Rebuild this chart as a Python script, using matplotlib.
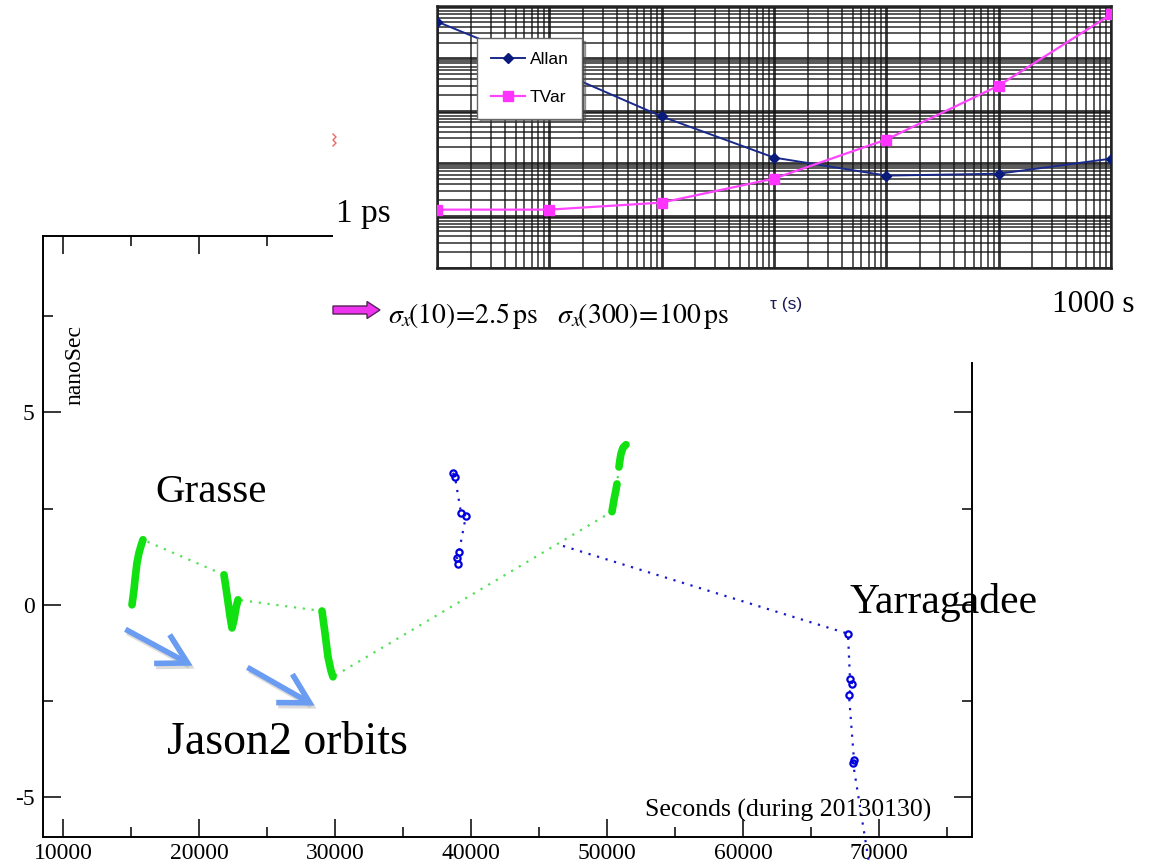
import matplotlib
matplotlib.use('Agg')
import matplotlib.pyplot as plt
import numpy as np
from matplotlib.patches import Rectangle, FancyArrow, FancyArrowPatch
from matplotlib.ticker import MultipleLocator, LogLocator, NullFormatter

plt.rcParams['font.family'] = ['Liberation Serif', 'DejaVu Serif']
plt.rcParams['axes.unicode_minus'] = False
plt.rcParams['mathtext.fontset'] = 'stix'

# ---------------- data: main time-transfer plot ----------------
# Grasse (green), passes separated by pass id
grasse_x = [15074, 15221, 15294, 15441, 15588, 15735, 15882,
            21838, 21985, 22132, 22279, 22426, 22574, 22721, 22868,
            29044, 29265, 29485, 29706, 29853,
            50368, 50515, 50662, 50735,
            50882, 50956, 51029, 51176, 51397]
grasse_y = [0.00, 0.39, 0.65, 1.09, 1.35, 1.53, 1.69,
            0.78, 0.44, 0.08, -0.29, -0.60, -0.39, -0.08, 0.13,
            -0.16, -0.73, -1.35, -1.71, -1.87,
            2.42, 2.73, 2.99, 3.14,
            3.58, 3.77, 3.92, 4.08, 4.16]
grasse_pass = [1]*7 + [2]*8 + [3]*5 + [4]*4 + [5]*5

# Yarragadee (blue), two separate segments
yar_a_x = [38676, 38824, 39265, 39632, 39118, 38971, 39044]
yar_a_y = [3.43, 3.32, 2.39, 2.31, 1.38, 1.22, 1.06]
yar_b_x = [46765, 67721, 67868, 68015, 67794, 68162, 68088, 69265]
yar_b_y = [1.53, -0.75, -1.92, -2.05, -2.34, -4.03, -4.10, -6.70]
yar_b_marked = [False, True, True, True, True, True, True, False]

x_ticks = [10000, 20000, 30000, 40000, 50000, 60000, 70000]
y_ticks = [-5, 0, 5]

# ---------------- data: Allan / TVar inset ----------------
tau = [1, 10, 100, 1000, 1e4, 1e5, 1e6]
allan = [5040, 670, 78, 12.8, 5.8, 6.3, 12.2]
tvar = [1.30, 1.30, 1.77, 5.08, 28.3, 302, 6900]

W, H = 1151, 865
fig = plt.figure(figsize=(W / 100, H / 100), dpi=100)

# ---------------- main axes ----------------
ax = fig.add_axes([43 / W, 1 - 837 / H, (972 - 43) / W, (837 - 236) / H], zorder=1)
ax.set_xlim(8530, 76840)
ax.set_ylim(-6.03, 9.58)
ax.set_xticks(x_ticks)
ax.set_yticks(y_ticks)
ax.xaxis.set_minor_locator(MultipleLocator(5000))
ax.yaxis.set_minor_locator(MultipleLocator(2.5))
ax.tick_params(which='both', direction='in', top=True, right=True,
               labelsize=17, width=1.1, colors='black')
ax.tick_params(which='major', length=13)
ax.tick_params(which='minor', length=7)
ax.tick_params(axis='x', pad=4)
ax.tick_params(axis='y', pad=6)
for s in ax.spines.values():
    s.set_linewidth(1.4)

gx = np.array(grasse_x)
gy = np.array(grasse_y)
gp = np.array(grasse_pass)
ax.plot(gx, gy, linestyle=(0, (1, 3)), color='#55e055', lw=1.6, zorder=2)
for p in np.unique(gp):
    m = gp == p
    ax.plot(gx[m], gy[m], '-', color='#11e011', lw=5.5, solid_capstyle='round',
            solid_joinstyle='round', zorder=3)

blue = '#1a1acc'
ax.plot(yar_a_x, yar_a_y, linestyle=(0, (1, 3)), color=blue, lw=1.6,
        marker='o', ms=4.5, mfc='none', mec='#0000dd', mew=1.6, zorder=4)
mk = [i for i, v in enumerate(yar_b_marked) if v]
ax.plot(yar_b_x, yar_b_y, linestyle=(0, (1, 3)), color=blue, lw=1.6,
        marker='o', ms=4.5, mfc='none', mec='#0000dd', mew=1.6, markevery=mk,
        zorder=4, clip_on=False)

# ---------------- overlay (pixel coordinates) ----------------
ov = fig.add_axes([0, 0, 1, 1], zorder=5)
ov.set_xlim(0, W)
ov.set_ylim(H, 0)
ov.axis('off')
ov.patch.set_alpha(0)

ov.add_patch(Rectangle((333, 0), W - 333, 362, fc='white', ec='none'))

ov.text(75, 365, 'nanoSec', rotation=90, ha='center', va='center', fontsize=17)
ov.text(788, 810, 'Seconds (during 20130130)', ha='center', va='center', fontsize=18.5)
ov.text(155, 493, 'Grasse', ha='left', va='center', fontsize=29.5)
ov.text(850, 603, 'Yarragadee', ha='left', va='center', fontsize=30)
ov.text(167, 743, 'Jason2 orbits', ha='left', va='center', fontsize=33)

for (x0, y0, x1, y1) in [(123, 628, 195, 667), (245, 666, 317, 707)]:
    sh = FancyArrowPatch((x0 + 2, y0 + 3), (x1 + 2, y1 + 3),
                         arrowstyle='->,head_length=0.75,head_width=0.42',
                         mutation_scale=28, lw=4, color='#b8b8b8', alpha=0.5,
                         capstyle='butt', joinstyle='miter')
    ov.add_patch(sh)
    ar = FancyArrowPatch((x0, y0), (x1, y1),
                         arrowstyle='->,head_length=0.75,head_width=0.42',
                         mutation_scale=28, lw=4, color='#6a9cf2',
                         capstyle='butt', joinstyle='miter')
    ov.add_patch(ar)

ov.text(336, 214, '1 ps', ha='left', va='center', fontsize=24)
ov.text(1052, 305, '1000 s', ha='left', va='center', fontsize=22.5)
ov.text(388, 316, r'$\sigma_x\!\left(10\right)\!=\!2.5\,\mathrm{ps}\quad\sigma_x\!\left(300\right)\!=\!100\,\mathrm{ps}$',
        ha='left', va='center', fontsize=20)
ov.text(770, 304, 'τ (s)', ha='left', va='center', fontsize=12.5,
        family=['Liberation Sans', 'DejaVu Sans'], color='#1a1a55')
ov.add_patch(FancyArrow(333, 310, 47, 0, width=8, head_width=17, head_length=13,
                        length_includes_head=True, fc='#ee33ee', ec='#552255', lw=1))
ov.plot([333, 336, 333, 336, 333], [134, 137, 140, 143, 146], color='#ee6666', lw=1)

# ---------------- inset: Allan / TVar ----------------
ins = fig.add_axes([437 / W, 1 - 268 / H, 674 / W, 262 / H], zorder=10)
ins.set_xscale('log')
ins.set_yscale('log')
ins.set_xlim(1, 1e6)
ins.set_ylim(0.1, 1e4)
for axis in (ins.xaxis, ins.yaxis):
    axis.set_major_locator(LogLocator(base=10, numticks=20))
    axis.set_minor_locator(LogLocator(base=10, subs=np.arange(2, 10), numticks=100))
    axis.set_major_formatter(NullFormatter())
    axis.set_minor_formatter(NullFormatter())
ins.tick_params(which='both', length=0)
ins.grid(True, which='major', color='#111111', lw=2.0, alpha=0.85)
ins.grid(True, which='minor', color='#111111', lw=1.4, alpha=0.7)
for s in ins.spines.values():
    s.set_linewidth(1.8)
    s.set_color('#222222')

ins.plot(tau, allan, '-', color='#1a2a8a', lw=1.4, marker='D', ms=5,
         mfc='#0a1a7a', mec='#0a1a7a', label='Allan', zorder=5)
ins.plot(tau, tvar, '-', color='#ff44ff', lw=1.6, marker='s', ms=7,
         mfc='#ff33ff', mec='#ff33ff', label='TVar', zorder=5)
leg = ins.legend(loc='upper left', bbox_to_anchor=(0.059, 0.878),
                 prop={'family': ['Liberation Sans', 'DejaVu Sans'], 'size': 12.5},
                 frameon=True, fancybox=False, shadow=True, framealpha=1,
                 edgecolor='#666666', labelspacing=1.3, handlelength=2.0,
                 handletextpad=0.25, borderpad=0.8, borderaxespad=0)
leg.set_zorder(20)

fig.savefig('out.png', dpi=100)
